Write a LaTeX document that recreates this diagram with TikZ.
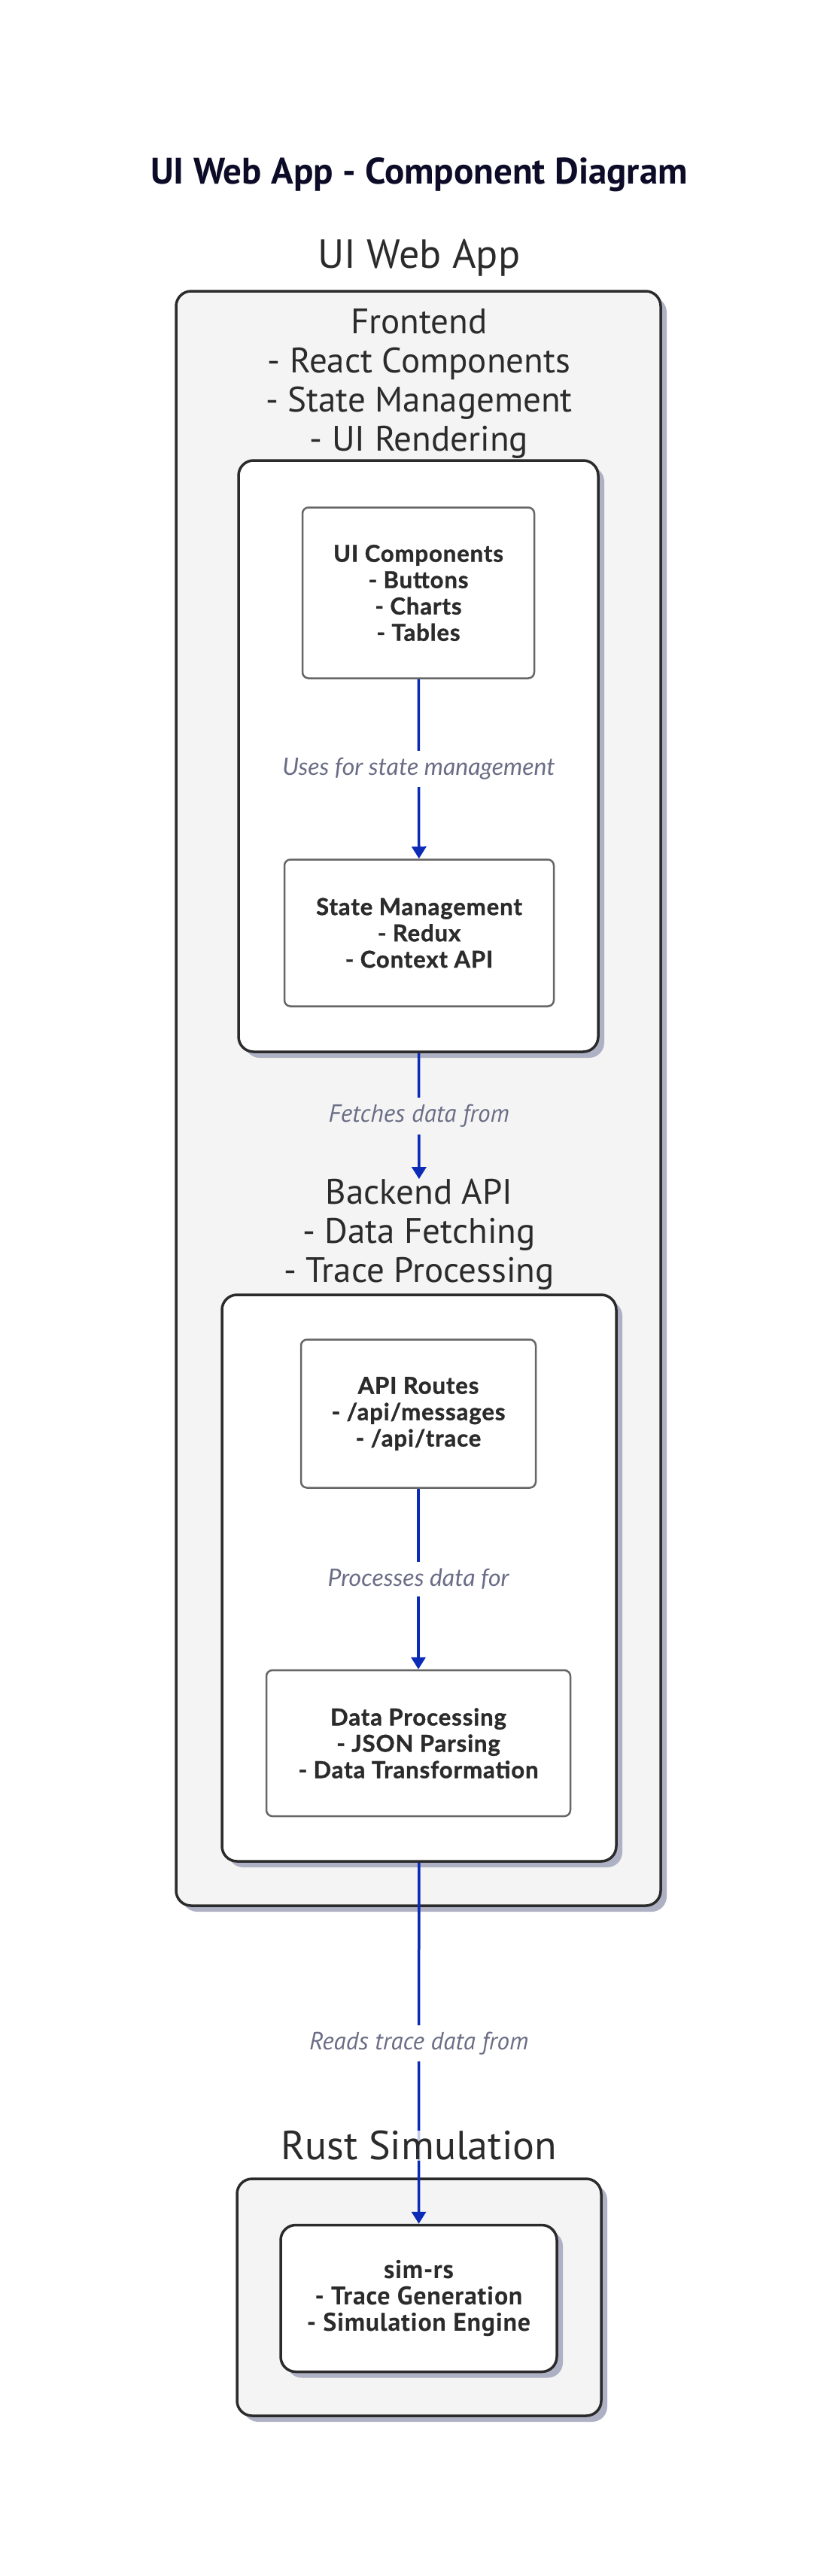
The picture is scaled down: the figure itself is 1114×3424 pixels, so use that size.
\documentclass[tikz,border=0pt]{standalone}
\usepackage{fontspec}
\setmainfont{PT Sans}
\newfontfamily\latofont{Lato}
\newfontfamily\boxfont[LetterSpace=3,FakeBold=1.2]{Lato}
\newfontfamily\simfont[LetterSpace=2]{PT Sans}
\usetikzlibrary{calc}
\usetikzlibrary{arrows.meta}
\usetikzlibrary{shadows}
\usepackage{xcolor}

\definecolor{edgeblue}{RGB}{12,44,184}
\definecolor{labelgray}{RGB}{106,109,133}
\definecolor{inkdark}{RGB}{43,43,43}
\definecolor{titlenavy}{RGB}{12,12,40}
\definecolor{shadowgray}{RGB}{174,176,196}
\definecolor{clusterfill}{RGB}{244,244,244}
\definecolor{nodegray}{RGB}{102,102,102}

\begin{document}
\begin{tikzpicture}[x=1pt,y=-1pt,
  cluster/.style={draw=inkdark,line width=3.5pt,rounded corners=20pt,fill=clusterfill,inner sep=0pt,
    drop shadow={shadow xshift=8pt,shadow yshift=-8pt,fill=shadowgray,opacity=1}},
  group/.style={cluster,fill=white},
  comp/.style={draw=nodegray,line width=2.5pt,rounded corners=8pt,fill=white,inner sep=0pt,
    align=center,text=inkdark,font=\boxfont\bfseries\fontsize{31}{35}\selectfont},
  ctitle/.style={align=center,text=inkdark,inner sep=0pt,font=\fontsize{47}{52}\selectfont},
  flow/.style={draw=edgeblue,line width=3.5pt,-{Triangle[length=16pt,width=19pt]}},
  elabel/.style={fill=white,text=labelgray,inner sep=9pt}
]
\useasboundingbox (0,0) rectangle (1114,3424);

\node[text=titlenavy,font=\bfseries\fontsize{49}{54}\selectfont] (title) at (557,232) {UI Web App - Component Diagram};

% web app
\node[cluster,minimum width=644pt,minimum height=2146pt] (webapp) at (556,1460) {};
\node[ctitle,font=\fontsize{54}{60}\selectfont] (webappl) at (557,343) {UI Web App};

% frontend
\node[ctitle] (frontl) at (557,510) {Frontend\\- React Components\\- State Management\\- UI Rendering};
\node[group,minimum width=478pt,minimum height=786pt] (front) at (556,1005) {};
\node[comp,minimum width=308pt,minimum height=227pt] (uicomp) at (556,788) {UI Components\\- Buttons\\- Charts\\- Tables};
\node[comp,minimum width=358pt,minimum height=195pt] (statemgmt) at (557,1240) {State Management\\- Redux\\- Context API};

% backend
\node[ctitle] (backl) at (557,1641) {Backend API\\- Data Fetching\\- Trace Processing};
\node[group,minimum width=524pt,minimum height=753pt] (back) at (557,2097.5) {};
\node[comp,minimum width=312pt,minimum height=197pt] (apiroutes) at (556,1879) {API Routes\\- /api/messages\\- /api/trace};
\node[comp,minimum width=404pt,minimum height=194pt] (dataproc) at (556,2317) {Data Processing\\- JSON Parsing\\- Data Transformation};

% rust
\node[cluster,minimum width=484pt,minimum height=315pt] (rust) at (557,3053.5) {};
\node[group,minimum width=367pt,minimum height=195pt,align=center,text=inkdark,
  font=\simfont\bfseries\fontsize{34}{35}\selectfont] (simrs) at (556.5,3055) {sim-rs\\- Trace Generation\\- Simulation Engine};

\draw[flow] (uicomp) -- node[elabel,font=\latofont\itshape\fontsize{32}{34}\selectfont] (l1) {Uses for state management} (statemgmt);
\draw[flow] (front) -- node[elabel,fill=clusterfill,font=\itshape\fontsize{33}{34}\selectfont] (l2) {Fetches data from} (backl);
\draw[flow] (apiroutes) -- node[elabel,font=\latofont\itshape\fontsize{32}{34}\selectfont] (l3) {Processes data for} (dataproc);
\draw[flow] (back) -- node[elabel,font=\itshape\fontsize{33}{34}\selectfont] (l4) {Reads trace data from} (simrs);

\node[ctitle,font=\fontsize{54}{60}\selectfont,fill=white,fill opacity=0.75,text opacity=1] (rustl) at (557,2852) {Rust Simulation};
\end{tikzpicture}
\end{document}
